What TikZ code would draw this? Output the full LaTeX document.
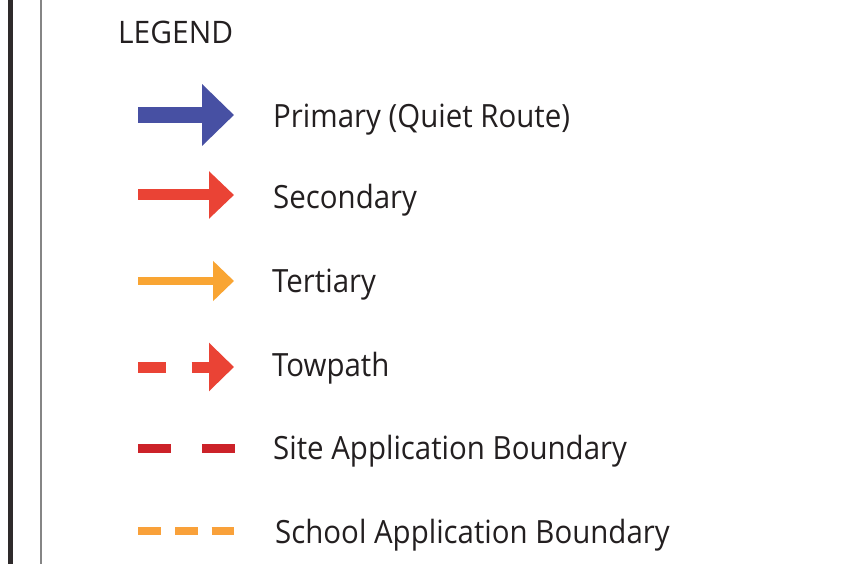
\documentclass[tikz,border=0pt]{standalone}
\usepackage{fontspec}
\setmainfont{Open Sans}
\newfontfamily\lblfont{Open Sans}[FakeStretch=0.92]
\newfontfamily\ttlfont{Open Sans}[FakeStretch=0.965]
\usetikzlibrary{arrows.meta}
\definecolor{ink}{HTML}{231F20}
\definecolor{primblue}{HTML}{4750A3}
\definecolor{secred}{HTML}{EA4335}
\definecolor{tertorange}{HTML}{F9A533}
\definecolor{sitered}{HTML}{CC2229}
\definecolor{schoolorange}{HTML}{F9A13A}
\tikzset{
  lbl/.style={anchor=base west, inner sep=0pt, text=ink, font=\lblfont\fontsize{32}{38}\selectfont},
  ttl/.style={anchor=base west, inner sep=0pt, text=ink, font=\ttlfont\fontsize{31}{37}\selectfont},
}
\begin{document}
\begin{tikzpicture}[x=1pt,y=-1pt]
\fill[white] (0,0) rectangle (860,564);
\useasboundingbox (0,0) rectangle (860,564);
% frame lines
\draw[line width=5pt, color=ink!95] (10.8,0) -- (10.8,564);
\draw[line width=2pt, color=black!48] (41,0) -- (41,564);
% title
\node[ttl] (title) at (118,43.3) {LEGEND};
% Primary
\coordinate (p1) at (138.3,115);
\coordinate (p2) at (234,115);
\draw[primblue, line width=16pt, -{Triangle[length=32pt,width=60pt]}] (p1) -- (p2);
\node[lbl] (tp) at (273,127.3) {Primary (Quiet Route)};
% Secondary
\coordinate (s1) at (138.3,195);
\coordinate (s2) at (234,195);
\draw[secred, line width=11pt, -{Triangle[length=25pt,width=46pt]}] (s1) -- (s2);
\node[lbl] (ts) at (273,208.3) {Secondary};
% Tertiary
\coordinate (t1) at (138.3,281);
\coordinate (t2) at (234,281);
\draw[tertorange, line width=8pt, -{Triangle[length=21pt,width=39pt]}] (t1) -- (t2);
\node[lbl] (tt) at (272,292.3) {Tertiary};
% Towpath
\coordinate (w1) at (138.3,367);
\coordinate (w2) at (165.7,367);
\coordinate (w3) at (191.7,367);
\coordinate (w4) at (234,367);
\draw[secred, line width=11pt] (w1) -- (w2);
\draw[secred, line width=11pt, -{Triangle[length=25pt,width=47pt]}] (w3) -- (w4);
\node[lbl] (tw) at (272,376.7) {Towpath};
% Site boundary
\coordinate (b1) at (138.3,448.5);
\coordinate (b2) at (234.7,448.5);
\draw[sitered, line width=8.5pt, dash pattern=on 32.4pt off 31.6pt] (b1) -- (b2);
\node[lbl] (tb) at (273,459.3) {Site Application Boundary};
% School boundary
\coordinate (c1) at (138.3,531);
\coordinate (c2) at (234.3,531);
\draw[schoolorange, line width=8.5pt, dash pattern=on 22.7pt off 14pt] (c1) -- (c2);
\node[lbl] (tc) at (275,543.3) {School Application Boundary};
\end{tikzpicture}
\end{document}
